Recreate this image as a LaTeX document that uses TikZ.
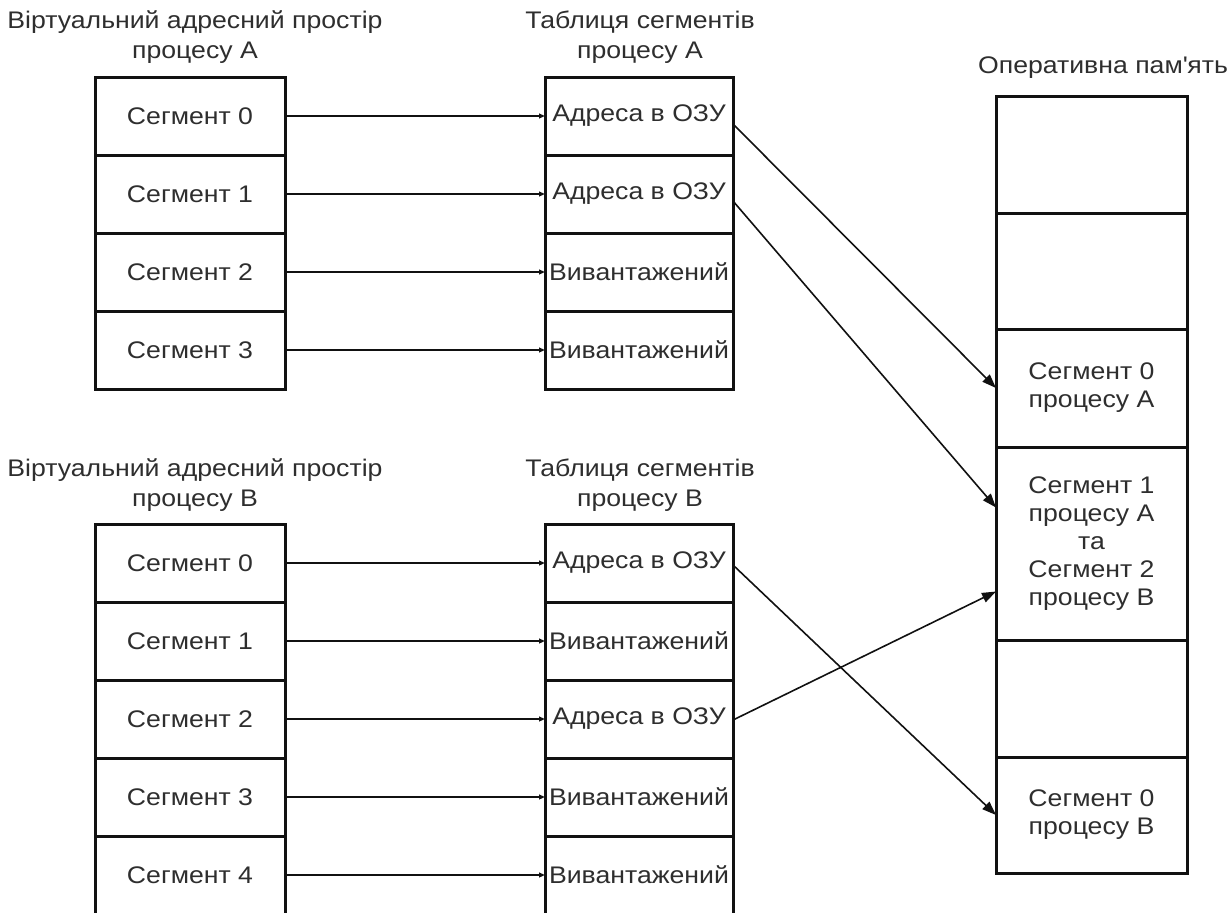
\documentclass[tikz,border=0pt]{standalone}
\usepackage{fontspec}
\setmainfont{Liberation Sans}[FakeStretch=1.11]
\usepackage{tikz}
\usetikzlibrary{arrows.meta,positioning}
\definecolor{segInk}{HTML}{111111}
\definecolor{segText}{HTML}{2E2E2E}
\tikzset{
  seg diagram/.style={font=\fontsize{12}{15}\selectfont, text=segText,
    x=0.5pt, y=-0.5pt},
  seg cell/.style={draw=segInk, line width=1.5pt, minimum width=95pt,
    minimum height=39pt, inner sep=1pt, outer sep=0pt, align=center},
  table cell/.style={seg cell, minimum width=94pt},
  ram cell/.style={seg cell, minimum width=95.5pt,
    font=\fontsize{12}{14}\selectfont},
  seg title/.style={align=center},
  seg arrow/.style={-{Triangle[length=3pt,width=2.4pt]}, draw=segInk,
    line width=0.8pt},
  ram arrow/.style={-{Triangle[length=7pt,width=5pt]}, draw=segInk,
    line width=0.8pt}
}

\begin{document}
\begin{tikzpicture}[seg diagram]
\useasboundingbox (0,0) rectangle (1232,912);
\clip (0,0) rectangle (1232,912);
% process A
\node[seg title] (vaTitle) at (195,37) {Віртуальний адресний простір\\процесу А};
\node[seg title] (taTitle) at (640,37) {Таблиця сегментів\\процесу А};
\foreach \i/\t in {0/Адреса в ОЗУ,1/Адреса в ОЗУ,2/Вивантажений,3/Вивантажений}{
  \node[seg cell] (va\i) at (190,116+78*\i) {Сегмент \i};
  \node[table cell] (ta\i) at (639,116+78*\i) {\t};
  \draw[seg arrow] (va\i.east) -- (ta\i.west);
}
% process B
\node[seg title] (vbTitle) at (195,485) {Віртуальний адресний простір\\процесу В};
\node[seg title] (tbTitle) at (640,485) {Таблиця сегментів\\процесу В};
\foreach \i/\t in {0/Адреса в ОЗУ,1/Вивантажений,2/Адреса в ОЗУ,3/Вивантажений,4/Вивантажений}{
  \node[seg cell] (vb\i) at (190,563+78*\i) {Сегмент \i};
  \node[table cell] (tb\i) at (639,563+78*\i) {\t};
  \draw[seg arrow] (vb\i.east) -- (tb\i.west);
}
% main memory
\node[seg title] (ramTitle) at (1103,68) {Оперативна пам\textquotesingle ять};
\foreach \i/\y/\h/\t in {0/154.5/58.5/{},1/271/58/{},
    2/388/59/{Сегмент 0\\процесу А},
    3/543.5/96.5/{Сегмент 1\\процесу А\\та\\Сегмент 2\\процесу В},
    4/698.5/58.5/{},5/815/58/{Сегмент 0\\процесу В}}{
  \node[ram cell, minimum height=\h pt] (mem\i) at (1091.5,\y) {\t};
}
\draw[ram arrow] ([yshift=-4pt]ta0.east) -- (mem2.west);
\draw[ram arrow] ([yshift=-3.5pt]ta1.east) -- ([yshift=18pt]mem3.west);
\draw[ram arrow] ([yshift=-1pt]tb0.east) -- (mem5.west);
\draw[ram arrow] ([yshift=-0.5pt]tb2.east) -- ([yshift=-24pt]mem3.west);
\end{tikzpicture}
\end{document}
